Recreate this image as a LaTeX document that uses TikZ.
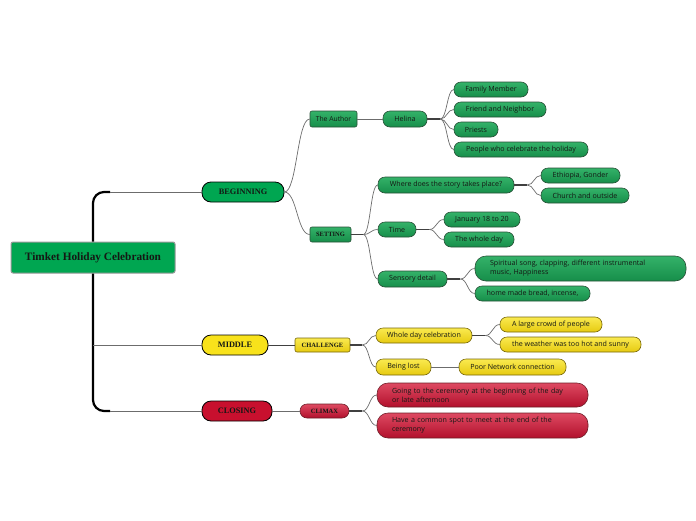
\documentclass[tikz,border=0pt]{standalone}
\usepackage{fontspec}
\setmainfont{Liberation Serif}
\newfontfamily\leaffont{Open Sans}
\usetikzlibrary{calc}
\definecolor{rootg}{RGB}{0,166,81}
\definecolor{lgt}{RGB}{52,178,105}
\definecolor{lgb}{RGB}{22,142,74}
\definecolor{lgd}{RGB}{40,80,55}
\definecolor{yel}{RGB}{248,226,27}
\definecolor{lyt}{RGB}{250,234,80}
\definecolor{lyb}{RGB}{230,202,16}
\definecolor{lyd}{RGB}{120,104,10}
\definecolor{red1}{RGB}{200,16,46}
\definecolor{lrt}{RGB}{222,74,98}
\definecolor{lrb}{RGB}{178,16,44}
\definecolor{lrd}{RGB}{110,30,40}
\definecolor{txt}{RGB}{20,24,20}
\tikzset{
  base/.style={inner sep=0pt, text=txt, line width=0.6pt},
  rootbox/.style={base, draw=gray!80, fill=rootg, rounded corners=2pt, line width=1pt,
     font=\fontsize{11.3}{13}\selectfont\bfseries, minimum height=31pt},
  mainbox/.style={base, draw=black, rounded corners=9pt, line width=0.8pt,
     font=\fontsize{8.3}{10}\selectfont\bfseries, minimum height=20pt},
  subbox/.style={base, rounded corners=2pt, font=\fontsize{6.5}{8}\selectfont\bfseries},
  leaf/.style={base, rounded corners=7pt, font=\leaffont\fontsize{7.1}{8.5}\selectfont, minimum height=15pt},
  wide/.style={leaf, rounded corners=11pt, align=left, text width=181pt, inner xsep=15pt, minimum height=25pt, font=\leaffont\fontsize{7.1}{9}\selectfont},
  gr/.style={draw=lgd, top color=lgt, bottom color=lgb},
  ye/.style={draw=lyd, top color=lyt, bottom color=lyb},
  rd/.style={draw=lrd, top color=lrt, bottom color=lrb},
  conn/.style={draw=gray!85!black, line width=0.7pt},
  fork/.style={draw=black!75, line width=1.3pt},
  trunk/.style={draw=black, line width=2.2pt},
}
\newcommand\lnk[2]{\draw[conn] let \p1=(#1), \p2=(#2) in (\p1) .. controls ({0.5*\x1+0.5*\x2},\y1) and ({0.5*\x1+0.5*\x2},\y2) .. (\p2);}
\begin{document}
\begin{tikzpicture}[x=1pt,y=-1pt]
\useasboundingbox (0,0) rectangle (696,520);
% main nodes
\node[rootbox, minimum width=164pt] (root) at (93,257.5) {Timket Holiday Celebration};
\node[mainbox, fill=rootg, minimum width=82pt] (beg) at (243,192) {BEGINNING};
\node[mainbox, fill=yel, minimum width=66pt] (mid) at (235,345) {MIDDLE};
\node[mainbox, fill=red1, minimum width=70pt] (clo) at (237,411) {CLOSING};
% beginning
\node[subbox, gr, font=\leaffont\fontsize{6.8}{8}\selectfont, minimum width=47pt, minimum height=16pt] (author) at (333.5,119) {The Author};
\node[leaf, gr, minimum width=44pt, minimum height=16pt] (helina) at (405,119) {Helina};
\node[leaf, gr, minimum width=74pt] (fm) at (491,89.5) {Family Member};
\node[leaf, gr, minimum width=92pt] (fn) at (500,109.5) {Friend and Neighbor};
\node[leaf, gr, minimum width=44pt] (pr) at (476,129.5) {Priests};
\node[leaf, gr, minimum width=134pt] (pp) at (521,149.5) {People who celebrate the holiday};
\node[subbox, gr, minimum width=41pt, minimum height=15pt] (set) at (330.5,234.5) {SETTING};
\node[leaf, gr, minimum width=136pt, minimum height=16pt] (where) at (446,185) {Where does the story takes place?};
\node[leaf, gr, minimum width=79pt] (eth) at (580.5,175.5) {Ethiopia, Gonder};
\node[leaf, gr, minimum width=88pt] (church) at (585,195.5) {Church and outside};
\node[leaf, gr, minimum width=38pt] (time) at (397,229.5) {Time};
\node[leaf, gr, minimum width=76pt] (jan) at (482,219.5) {January 18 to 20};
\node[leaf, gr, minimum width=70pt] (whole) at (479,239.5) {The whole day};
\node[leaf, gr, minimum width=69pt, minimum height=16pt] (sens) at (412.5,279) {Sensory detail};
\node[wide, gr] (spir) at (580.5,268.5) {Spiritual song, clapping, different instrumental\\music, Happiness};
\node[leaf, gr, minimum width=115pt] (bread) at (532.5,293.5) {home made bread, incense,};
% middle
\node[subbox, ye, minimum width=55pt, minimum height=14pt] (chal) at (322.5,345) {CHALLENGE};
\node[leaf, ye, minimum width=96pt] (wdc) at (424,335.5) {Whole day celebration};
\node[leaf, ye, minimum width=102pt] (crowd) at (551,324.5) {A large crowd of people};
\node[leaf, ye, minimum width=141pt] (weather) at (570.5,344.5) {the weather was too hot and sunny};
\node[leaf, ye, minimum width=55pt, minimum height=16pt] (lost) at (403.5,367) {Being lost};
\node[leaf, ye, minimum width=107pt, minimum height=16pt] (net) at (512.5,367) {Poor Network connection};
% closing
\node[subbox, rd, rounded corners=7pt, minimum width=49pt, minimum height=14pt] (climax) at (324.5,411) {CLIMAX};
\node[wide, rd, minimum height=24pt] (going) at (482.5,395) {Going to the ceremony at the beginning of the day\\or late afternoon};
\node[wide, rd] (spot) at (482.5,425.5) {Have a common spot to meet at the end of the\\ceremony};
% trunk
\coordinate (tTop) at (110,192);
\coordinate (tBot) at (110,411);
\coordinate (tMid) at (93,345);
\draw[trunk, rounded corners=11pt] (tTop) -| (root.north);
\draw[trunk, rounded corners=11pt] (root.south) |- (tBot);
\draw[conn] (tTop) -- (beg.west);
\draw[conn] (tBot) -- (clo.west);
\draw[conn] (tMid) -- (mid.west);
% beginning links
\lnk{beg.east}{author.west}
\lnk{beg.east}{set.west}
\draw[conn] (author.east) -- (helina.west);
\coordinate (fH) at ($(helina.east)+(13,0)$);
\draw[fork] (helina.east) -- (fH);
\lnk{fH}{fm.west}\lnk{fH}{fn.west}\lnk{fH}{pr.west}\lnk{fH}{pp.west}
\coordinate (fS) at ($(set.east)+(12,0)$);
\draw[fork] (set.east) -- (fS);
\lnk{fS}{where.west}\lnk{fS}{time.west}\lnk{fS}{sens.west}
\coordinate (fW) at ($(where.east)+(13,0)$);
\draw[fork] (where.east) -- (fW);
\lnk{fW}{eth.west}\lnk{fW}{church.west}
\coordinate (fT) at ($(time.east)+(13,0)$);
\draw[fork] (time.east) -- (fT);
\lnk{fT}{jan.west}\lnk{fT}{whole.west}
\coordinate (fSe) at ($(sens.east)+(13,0)$);
\draw[fork] (sens.east) -- (fSe);
\lnk{fSe}{spir.west}\lnk{fSe}{bread.west}
% middle links
\draw[fork, line width=1pt] (mid.east) -- (chal.west);
\coordinate (fC) at ($(chal.east)+(12,0)$);
\draw[fork] (chal.east) -- (fC);
\lnk{fC}{wdc.west}\lnk{fC}{lost.west}
\coordinate (fD) at ($(wdc.east)+(13,0)$);
\draw[fork] (wdc.east) -- (fD);
\lnk{fD}{crowd.west}\lnk{fD}{weather.west}
\draw[conn] (lost.east) -- (net.west);
% closing links
\draw[conn] (clo.east) -- (climax.west);
\coordinate (fX) at ($(climax.east)+(13,0)$);
\draw[fork] (climax.east) -- (fX);
\lnk{fX}{going.west}\lnk{fX}{spot.west}
\end{tikzpicture}
\end{document}
